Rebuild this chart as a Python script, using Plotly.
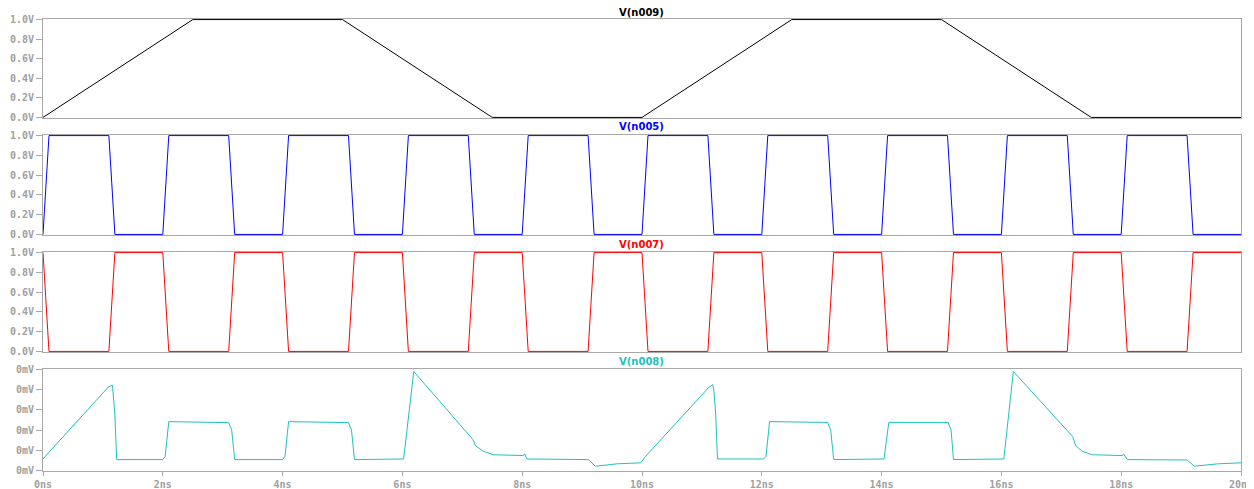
import plotly.graph_objects as go

# ---------------- data (time in ns) ----------------
t_n009 = [0, 2.5, 5.0, 7.5, 10.0, 12.5, 15.0, 17.5, 20.0]
v_n009 = [0.0, 1.0, 1.0, 0.0, 0.0, 1.0, 1.0, 0.0, 0.0]

t_clk = [0, 0.1, 1.1, 1.2, 2.0, 2.1, 3.1, 3.2, 4.0, 4.1, 5.1, 5.2, 6.0, 6.1,
         7.1, 7.2, 8.0, 8.1, 9.1, 9.2, 10.0, 10.1, 11.1, 11.2, 12.0, 12.1,
         13.1, 13.2, 14.0, 14.1, 15.1, 15.2, 16.0, 16.1, 17.1, 17.2, 18.0,
         18.1, 19.1, 19.2, 20.0]
v_n005 = [0, 1, 1, 0, 0, 1, 1, 0, 0, 1, 1, 0, 0, 1,
          1, 0, 0, 1, 1, 0, 0, 1, 1, 0, 0, 1,
          1, 0, 0, 1, 1, 0, 0, 1, 1, 0, 0,
          1, 1, 0, 0]
v_n007 = [1, 0, 0, 1, 1, 0, 0, 1, 1, 0, 0, 1, 1, 0,
          0, 1, 1, 0, 0, 1, 1, 0, 0, 1, 1, 0,
          0, 1, 1, 0, 0, 1, 1, 0, 0, 1, 1,
          0, 0, 1, 1]

t_n008 = [0.0, 0.09, 1.09, 1.16, 1.2, 1.23, 2.0, 2.04, 2.1, 3.1, 3.15, 3.2,
          4.0, 4.04, 4.1, 5.1, 5.15, 5.2, 6.02, 6.19, 7.18, 7.22, 7.35, 7.52,
          8.02, 8.04, 8.08, 9.11, 9.22, 9.58, 9.98, 10.06, 11.12, 11.18, 11.2,
          11.23, 11.26, 12.03, 12.07, 12.13, 13.1, 13.15, 13.2, 14.04, 14.12,
          15.11, 15.16, 15.2, 16.04, 16.2, 17.19, 17.24, 17.35, 17.52, 18.02,
          18.04, 18.1, 19.1, 19.22, 19.61, 20.0]
v_n008 = [0.057, 0.087, 0.413, 0.422, 0.275, 0.054, 0.054, 0.07, 0.242, 0.237, 0.2, 0.054,
          0.054, 0.07, 0.242, 0.237, 0.2, 0.054, 0.057, 0.49, 0.152, 0.123, 0.095, 0.078,
          0.074, 0.082, 0.057, 0.054, 0.021, 0.033, 0.038, 0.07, 0.413, 0.425, 0.397,
          0.28, 0.057, 0.057, 0.07, 0.242, 0.238, 0.2, 0.054, 0.057, 0.238,
          0.238, 0.2, 0.054, 0.057, 0.49, 0.168, 0.123, 0.095, 0.078, 0.074,
          0.082, 0.054, 0.052, 0.021, 0.033, 0.038]

v_ticks = [0.0, 0.2, 0.4, 0.6, 0.8, 1.0]
v_ticktext = ["0.0V", "0.2V", "0.4V", "0.6V", "0.8V", "1.0V"]
mv_ticks = [0.0, 0.1, 0.2, 0.3, 0.4, 0.5]
mv_ticktext = ["0mV", "0mV", "0mV", "0mV", "0mV", "0mV"]
x_ticks = [0, 2, 4, 6, 8, 10, 12, 14, 16, 18, 20]
x_ticktext = ["0ns", "2ns", "4ns", "6ns", "8ns", "10ns", "12ns", "14ns", "16ns", "18ns", "20ns"]

titles = ["V(n009)", "V(n005)", "V(n007)", "V(n008)"]
colors = ["#000000", "#0000ff", "#ff0000", "#20c0c0"]

# ---------------- layout geometry ----------------
# The page body has an 8px default margin; compensate so the figure
# lands at the intended window pixels.
OFF = 8
W, H = 1254, 489
def py(p):
    return 1 - (p - OFF) / H
def px(p):
    return (p - OFF) / W

x_dom = [px(43), px(1241)]
panels_px = [(19, 118), (135, 235), (252, 352), (369, 471)]
title_px = [13, 127, 244, 361]

fig = go.Figure()
series = [(t_n009, v_n009), (t_clk, v_n005), (t_clk, v_n007), (t_n008, v_n008)]
for i, (tt, vv) in enumerate(series):
    fig.add_trace(go.Scatter(
        x=tt, y=vv, mode="lines",
        line=dict(color=colors[i], width=1),
        xaxis="x" if i == 0 else f"x{i+1}",
        yaxis="y" if i == 0 else f"y{i+1}",
        showlegend=False, hoverinfo="skip"))

tick_font = dict(family="DejaVu Sans Mono", size=10, color="#a0a0a0", weight="bold")
frame = "#a8a8a8"

layout = dict(
    width=W, height=H,
    margin=dict(l=0, r=0, t=0, b=0, autoexpand=False),
    paper_bgcolor="white", plot_bgcolor="white",
    showlegend=False,
)
for i in range(4):
    xs = "xaxis" if i == 0 else f"xaxis{i+1}"
    ys = "yaxis" if i == 0 else f"yaxis{i+1}"
    top, bot = panels_px[i]
    xa = dict(domain=x_dom, range=[0, 20], anchor="y" if i == 0 else f"y{i+1}",
              showline=True, mirror=True, linecolor=frame, linewidth=1,
              showgrid=False, zeroline=False, layer="below traces", automargin=False)
    if i == 3:
        xa.update(tickmode="array", tickvals=x_ticks, ticktext=x_ticktext,
                  ticks="outside", ticklen=4, tickcolor=frame, tickfont=tick_font,
                  showticklabels=True)
    else:
        xa.update(showticklabels=False, ticks="", matches="x4")
    layout[xs] = xa
    if i < 3:
        rng = [-0.006, 1.006]
        tv, tt = v_ticks, v_ticktext
    else:
        rng = [-0.0025, 0.5025]
        tv, tt = mv_ticks, mv_ticktext
    layout[ys] = dict(domain=[py(bot), py(top)], range=rng,
                      anchor="x" if i == 0 else f"x{i+1}",
                      tickmode="array", tickvals=tv, ticktext=tt,
                      ticks="outside", ticklen=6, tickcolor=frame, tickfont=tick_font,
                      showline=True, mirror=True, linecolor=frame, linewidth=1,
                      showgrid=False, zeroline=False, layer="below traces", automargin=False)

fig.update_layout(**layout)

for i in range(4):
    fig.add_annotation(text=titles[i], xref="paper", yref="paper",
                       x=(x_dom[0] + x_dom[1]) / 2, y=py(title_px[i]),
                       xanchor="center", yanchor="middle", showarrow=False,
                       font=dict(family="DejaVu Sans", size=10, color=colors[i], weight="bold"))

fig.write_html("out.html")
